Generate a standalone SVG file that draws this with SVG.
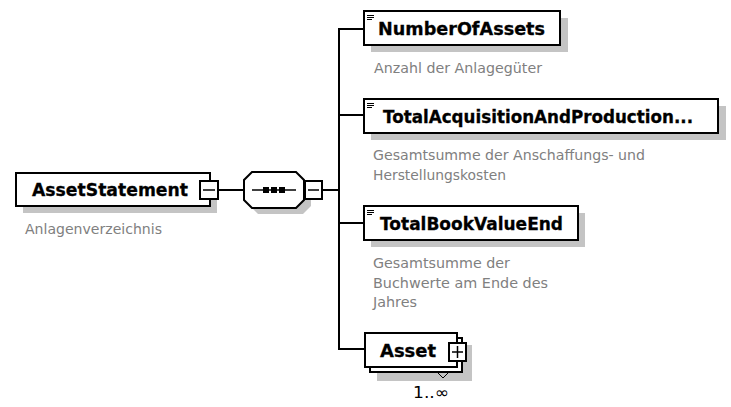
<svg xmlns="http://www.w3.org/2000/svg" width="731" height="407" viewBox="0 0 731 407">
<style>
.box{fill:#fff;stroke:#000;stroke-width:2}
.shadow{fill:#c4c4c4}
.name{font-family:"DejaVu Sans","Liberation Sans",sans-serif;font-weight:bold;font-size:18px;fill:#000;stroke:#000;stroke-width:0.3}
.desc{font-family:"DejaVu Sans","Liberation Sans",sans-serif;font-size:14px;fill:#808080}
.card{font-family:"DejaVu Sans","Liberation Sans",sans-serif;font-size:16px;fill:#000}
.line{stroke:#000;stroke-width:2;fill:none}
.thin{stroke:#000;stroke-width:1.5;fill:none}
.icon{stroke:#000;stroke-width:1;fill:none}
</style>
<rect width="731" height="407" fill="#fff"/>
<g id="connectors">
<line class="line" x1="218" y1="190" x2="244" y2="190"/>
<line class="line" x1="322" y1="190" x2="339" y2="190"/>
<path class="line" d="M364 29 H339 V349 H365"/>
<line class="line" x1="339" y1="115" x2="364" y2="115"/>
<line class="line" x1="339" y1="223" x2="364" y2="223"/>
</g>
<g id="AssetStatement">
<rect class="shadow" x="23" y="180" width="194" height="33"/>
<rect class="box" x="16" y="173" width="194" height="33"/>
<text class="name" x="32" y="196" textLength="156" lengthAdjust="spacingAndGlyphs">AssetStatement</text>
<rect class="box" x="200" y="181" width="18" height="18" stroke-width="1.5"/>
<line class="thin" x1="203" y1="190" x2="215" y2="190"/>
<text class="desc" x="25" y="234" textLength="137" lengthAdjust="spacingAndGlyphs">Anlagenverzeichnis</text>
</g>
<g id="sequence">
<polygon class="shadow" points="258,179 303,179 311,187 311,206 303,214 258,214 250,206 250,187"/>
<polygon class="box" points="252,172 296,172 304,180 304,200 296,208 252,208 244,200 244,180"/>
<line class="thin" x1="252" y1="190" x2="296" y2="190"/>
<rect x="263" y="187" width="6" height="6" fill="#000"/>
<rect x="271" y="187" width="6" height="6" fill="#000"/>
<rect x="279" y="187" width="6" height="6" fill="#000"/>
<rect class="box" x="305" y="181" width="17" height="18" stroke-width="1.5"/>
<line class="thin" x1="308" y1="190" x2="319" y2="190"/>
</g>
<g id="NumberOfAssets">
<rect class="shadow" x="371" y="18" width="197" height="34"/>
<rect class="box" x="364" y="11" width="196" height="34"/>
<path class="icon" d="M367 15.5 H374 M367 17.5 H374 M367 19.5 H372"/>
<text class="name" x="378" y="35" textLength="167" lengthAdjust="spacingAndGlyphs">NumberOfAssets</text>
<text class="desc" x="374" y="73" textLength="168" lengthAdjust="spacingAndGlyphs">Anzahl der Anlagegüter</text>
</g>
<g id="TotalAcquisitionAndProduction">
<rect class="shadow" x="371" y="106" width="355" height="34"/>
<rect class="box" x="364" y="99" width="354" height="34"/>
<path class="icon" d="M367 103.5 H374 M367 105.5 H374 M367 107.5 H372"/>
<text class="name" x="383" y="123" textLength="310" lengthAdjust="spacingAndGlyphs">TotalAcquisitionAndProduction...</text>
<text class="desc" x="373" y="160" textLength="272" lengthAdjust="spacingAndGlyphs">Gesamtsumme der Anschaffungs- und</text>
<text class="desc" x="373" y="180" textLength="133" lengthAdjust="spacingAndGlyphs">Herstellungskosten</text>
</g>
<g id="TotalBookValueEnd">
<rect class="shadow" x="371" y="213" width="214" height="34"/>
<rect class="box" x="364" y="206" width="214" height="34"/>
<path class="icon" d="M367 210.5 H374 M367 212.5 H374 M367 214.5 H372"/>
<text class="name" x="380" y="230" textLength="183" lengthAdjust="spacingAndGlyphs">TotalBookValueEnd</text>
<text class="desc" x="373" y="268" textLength="137" lengthAdjust="spacingAndGlyphs">Gesamtsumme der</text>
<text class="desc" x="373" y="288" textLength="175" lengthAdjust="spacingAndGlyphs">Buchwerte am Ende des</text>
<text class="desc" x="373" y="307" textLength="44" lengthAdjust="spacingAndGlyphs">Jahres</text>
</g>
<g id="Asset">
<rect class="shadow" x="377" y="345" width="95" height="36"/>
<rect class="box" x="370" y="338" width="92" height="34"/>
<rect class="box" x="365" y="333" width="92" height="34"/>
<text class="name" x="380" y="357" textLength="56" lengthAdjust="spacingAndGlyphs">Asset</text>
<rect class="box" x="449" y="343" width="17" height="18" stroke-width="1.5"/>
<path class="thin" d="M452 352 H463 M457.5 346 V358"/>
<path class="icon" d="M437 372 L443 378 L449 372"/>
<text class="card" x="413" y="398" textLength="36" lengthAdjust="spacingAndGlyphs">1..∞</text>
</g>
</svg>
